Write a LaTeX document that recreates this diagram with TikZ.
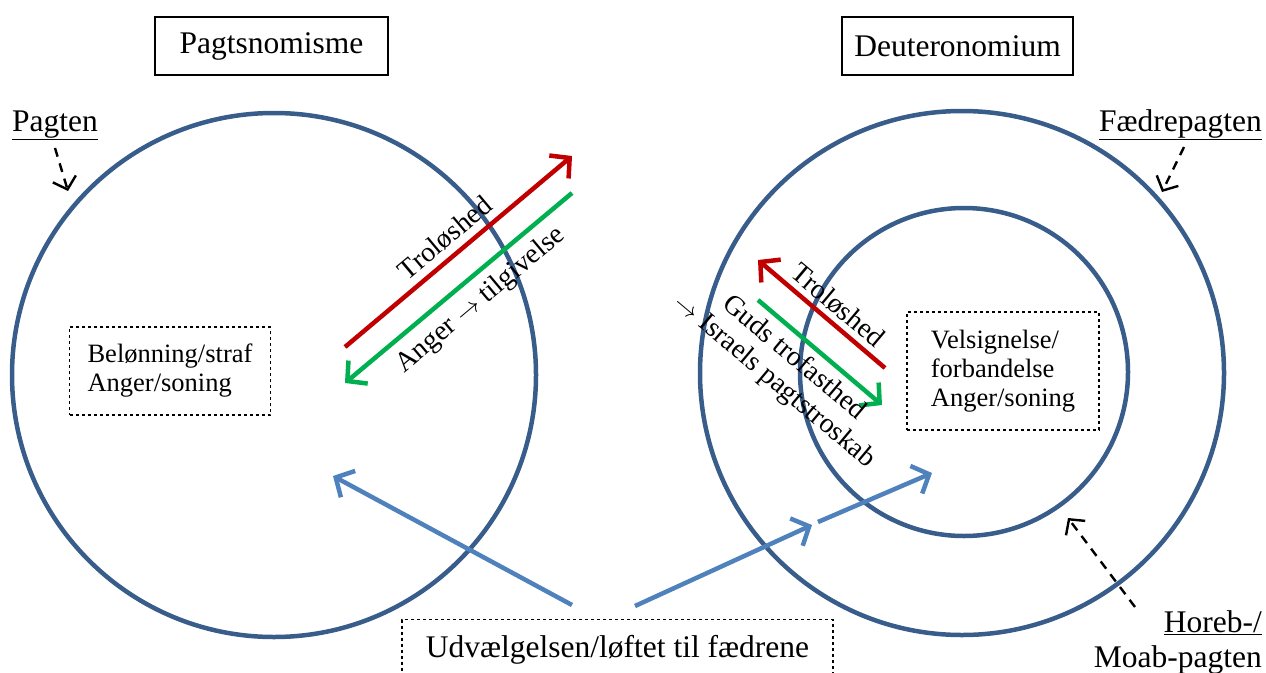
\documentclass[tikz,border=0pt]{standalone}
\usepackage{fontspec}
\setmainfont{Liberation Serif}
\usetikzlibrary{arrows.meta}
\definecolor{ringblue}{HTML}{385D8A}
\definecolor{arrowblue}{HTML}{4F81BD}
\definecolor{darkred}{HTML}{C00000}
\definecolor{brightgreen}{HTML}{00B050}
\begin{document}
\begin{tikzpicture}[x=1pt,y=-1pt,
  ring/.style={circle, draw=ringblue, line width=4.5pt, inner sep=0pt},
  titlebox/.style={draw, line width=2.2pt, minimum height=58pt, font=\fontsize{31.5}{38}\selectfont},
  dashbox/.style={draw, dashed, line width=1.1pt, inner xsep=18pt, align=left, font=\fontsize{26.5}{29}\selectfont},
  biglabel/.style={font=\fontsize{31.5}{36}\selectfont, inner sep=0pt},
  rotlabel/.style={font=\fontsize{28}{30}\selectfont, inner sep=0pt, align=center},
  bigarrow/.style={line width=4.5pt, -{Straight Barb[length=14pt,width=30pt]}},
  pointer/.style={line width=2.4pt, dash pattern=on 9pt off 7pt, -{Straight Barb[length=11pt,width=24pt]}}
]
\useasboundingbox (0,0) rectangle (1266,672);

% circles
\node (lc) [ring, minimum size=524pt] at (274,375) {};
\node (ro) [ring, minimum size=524pt] at (962,373) {};
\node (ri) [ring, minimum size=328pt] at (964,372) {};

% titles
\node (t1) [titlebox, minimum width=233pt] at (271.5,46) {Pagtsnomisme};
\node (t2) [titlebox, minimum width=231pt] at (957.5,46) {Deuteronomium};

% dashed boxes
\node (lb) [dashbox, minimum height=88pt] at (170,371) {Belønning/straf\\Anger/soning};
\node (rb) [dashbox, minimum width=192pt, minimum height=118pt] at (1003,371) {Velsignelse/\\forbandelse\\Anger/soning};
\node (ub) [draw, dashed, line width=1.1pt, minimum width=431pt, minimum height=80pt, anchor=north] at (617.5,619) {};
\node (ut) [biglabel, anchor=base] at (617.5,657) {Udvælgelsen/løftet til fædrene};

% side labels
\node (pg) [biglabel, anchor=base west] at (12,131) {\underline{Pagten}};
\node (fp) [biglabel, anchor=base east] at (1262,131) {\underline{Fædrepagten}};
\node (hm) [biglabel, anchor=base east, align=right] at (1262,632) {\underline{Horeb-/}};
\node (mp) [biglabel, anchor=base east] at (1262,667) {Moab-pagten};

% pointer arrows
\coordinate (pgA) at (55,148);  \coordinate (pgB) at (68,191);
\coordinate (fpA) at (1184,147); \coordinate (fpB) at (1162,192);
\coordinate (hmA) at (1135,607); \coordinate (hmB) at (1068,518);
\draw[pointer] (pgA) -- (pgB);
\draw[pointer] (fpA) -- (fpB);
\draw[pointer] (hmA) -- (hmB);

% left red/green arrows
\coordinate (lr1) at (345,347); \coordinate (lr2) at (572,156);
\coordinate (lg1) at (572,193); \coordinate (lg2) at (345,383);
\draw[bigarrow, darkred] (lr1) -- (lr2);
\draw[bigarrow, brightgreen] (lg1) -- (lg2);
\node (ltr) [rotlabel, rotate=40] at (445,238) {Troløshed};
\node (lat) [rotlabel, rotate=40] at (481,300) {Anger $\rightarrow$ tilgivelse};

% right red/green arrows
\coordinate (rr1) at (885,368); \coordinate (rr2) at (758,260);
\coordinate (rg1) at (758,300); \coordinate (rg2) at (882,405);
\draw[bigarrow, darkred] (rr1) -- (rr2);
\draw[bigarrow, brightgreen] (rg1) -- (rg2);
\node (rtr) [rotlabel, rotate=-40] at (838,305) {Troløshed};
\node (rgt) [rotlabel, rotate=-40] at (784,370) {Guds trofasthed\\$\rightarrow$ Israels pagtstroskab};

% blue arrows
\coordinate (b1) at (572,605); \coordinate (b1t) at (333,476);
\coordinate (b2) at (635,606); \coordinate (b2t) at (812,525);
\coordinate (b3) at (818,522); \coordinate (b3t) at (932,473);
\draw[bigarrow, arrowblue] (b1) -- (b1t);
\draw[bigarrow, arrowblue] (b2) -- (b2t);
\draw[bigarrow, arrowblue] (b3) -- (b3t);
\end{tikzpicture}
\end{document}
